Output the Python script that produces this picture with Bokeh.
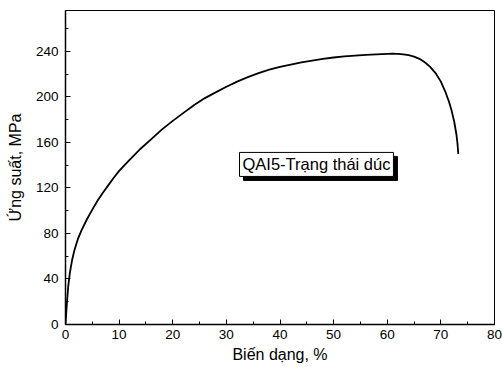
from bokeh.plotting import figure
from bokeh.models import Range1d, SingleIntervalTicker, Label
from bokeh.embed import file_html
from bokeh.resources import INLINE

strain = [0, 0.25, 0.5, 0.8, 1.2, 1.7, 2.3, 3, 4, 5, 6, 7, 8, 9, 10, 12, 14, 16, 18, 20,
          22, 24, 26, 28, 30, 32, 34, 36, 38, 40, 42, 44, 46, 48, 50, 52, 54, 56, 58, 60,
          61, 62, 63, 64, 65, 66, 67, 68, 69, 70, 70.8, 71.5, 72, 72.5, 72.9, 73.1, 73.25]
stress = [0, 18, 33, 45, 56, 66, 75, 83, 92.5, 101, 109, 116, 122.5, 129, 135, 145, 154.5, 163, 171.5, 179,
          186, 193, 199, 204, 209, 213.5, 217.5, 221, 224, 226.5, 228.5, 230.5, 232, 233.5, 234.7, 235.6, 236.4, 237, 237.5, 237.8,
          238, 237.9, 237.5, 236.8, 235.5, 233.5, 230.5, 226.5, 221, 213.5, 205, 196, 188, 178, 167, 159, 150]

x_label = "Biến dạng, %"
y_label = "Ứng suất, MPa"
note = "QAI5-Trạng thái dúc"

FONT = "Liberation Sans"

p = figure(width=502, height=367, output_backend="svg", toolbar_location=None,
           x_range=Range1d(0, 80), y_range=Range1d(0, 276),
           min_border_left=65, min_border_right=8, min_border_top=10, min_border_bottom=43)
p.background_fill_color = "white"
p.border_fill_color = "white"
p.outline_line_color = "black"
p.outline_line_width = 1
p.xgrid.visible = False
p.ygrid.visible = False

p.line(strain, stress, line_color="black", line_width=1.8, line_join="round")

p.xaxis.ticker = SingleIntervalTicker(interval=10, num_minor_ticks=2)
p.yaxis.ticker = SingleIntervalTicker(interval=40, num_minor_ticks=2)
for ax in (p.xaxis[0], p.yaxis[0]):
    ax.axis_line_color = "black"
    ax.axis_line_width = 1.5
    ax.major_tick_in = 5
    ax.major_tick_out = 0
    ax.minor_tick_in = 3
    ax.minor_tick_out = 0
    ax.major_tick_line_color = "black"
    ax.minor_tick_line_color = "black"
    ax.major_label_text_font = FONT
    ax.major_label_text_font_size = "13.5px"
    ax.major_label_text_color = "black"
    ax.axis_label_text_font = FONT
    ax.axis_label_text_font_size = "16px"
    ax.axis_label_text_font_style = "normal"
    ax.axis_label_text_color = "black"
p.xaxis.axis_label = x_label
p.yaxis.axis_label = y_label
p.xaxis.major_label_standoff = 5
p.xaxis.axis_label_standoff = 4
p.yaxis.major_label_standoff = 7
p.yaxis.axis_label_standoff = 9

shadow = Label(x=46.8, y=140.7, text=note, text_align="center", text_baseline="middle",
               x_offset=4, y_offset=-4,
               text_font=FONT, text_font_size="16.5px", text_color="black",
               background_fill_color="black", border_line_color="black", padding=3)
box = Label(x=46.8, y=140.7, text=note, text_align="center", text_baseline="middle",
            text_font=FONT, text_font_size="16.5px", text_color="black",
            background_fill_color="white", border_line_color="black", border_line_width=1,
            padding=3)
p.add_layout(shadow)
p.add_layout(box)

open("out.html", "w").write(file_html(p, INLINE))
